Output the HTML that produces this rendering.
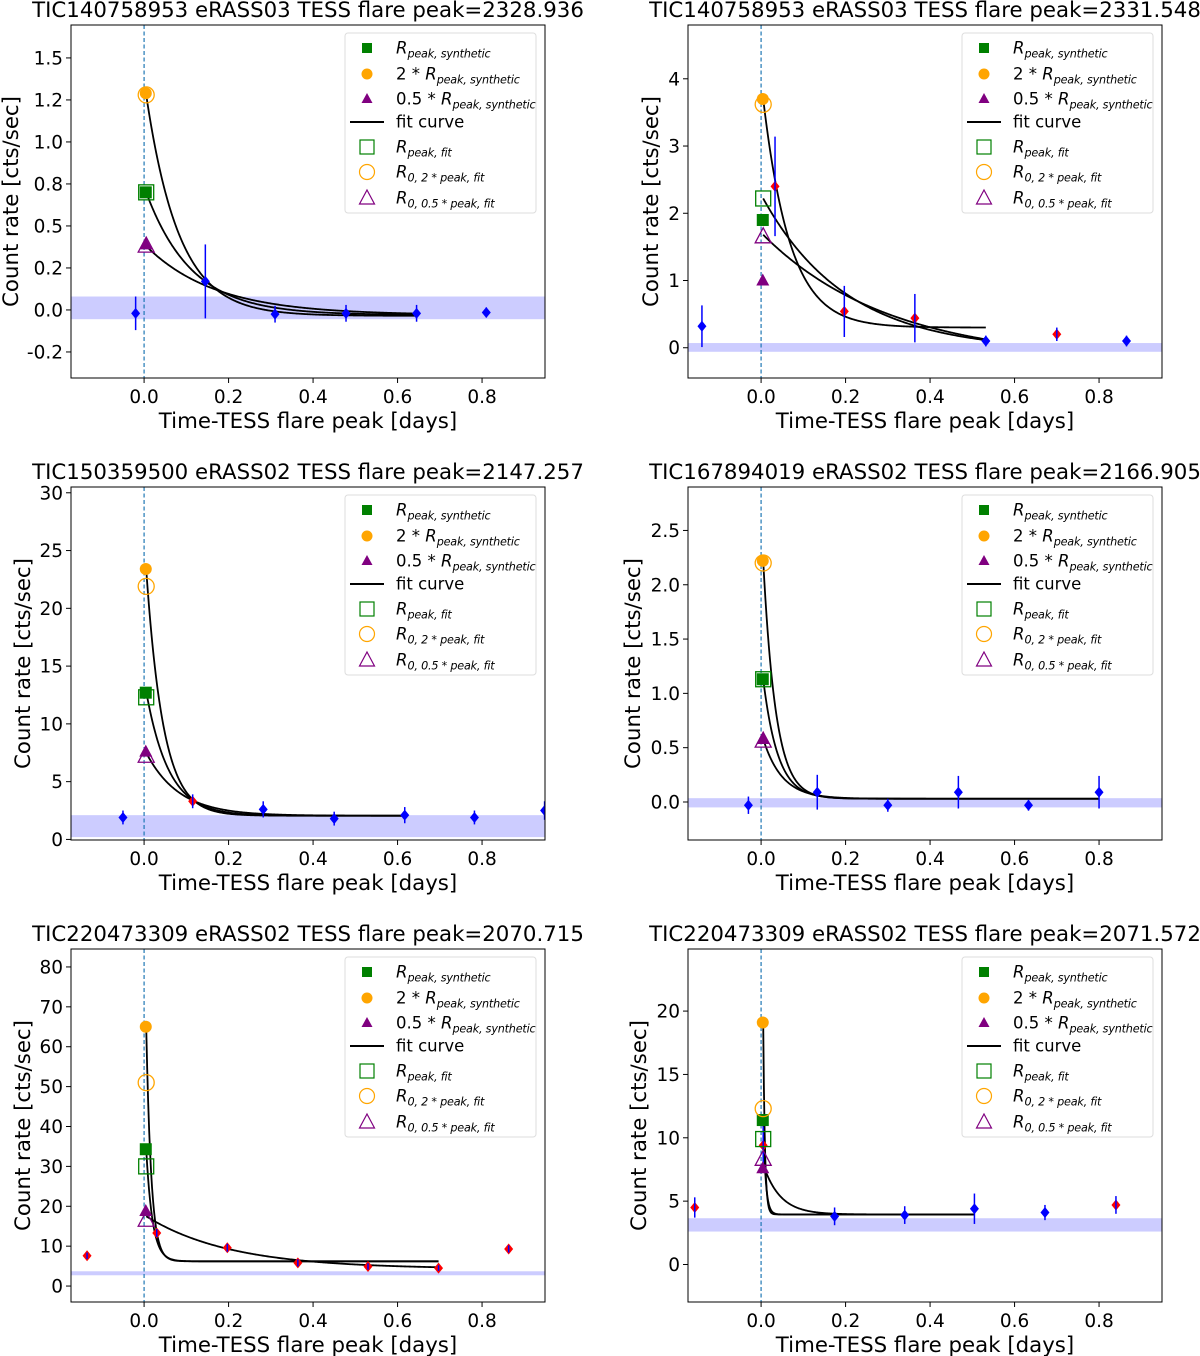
<!DOCTYPE html>
<html><head><meta charset="utf-8"><style>
html,body{margin:0;padding:0;background:#fff;}
svg{display:block;font-family:"DejaVu Sans","Liberation Sans",sans-serif;}
</style></head><body>
<svg id="fig" width="1200" height="1356" viewBox="0 0 1200 1356" xmlns="http://www.w3.org/2000/svg"></svg>
<script>
// ---- data arrays (top level) ----
const xTicks = [0, 0.2, 0.4, 0.6, 0.8];
const xTickLabels = ['0.0', '0.2', '0.4', '0.6', '0.8'];
const titles = [
 'TIC140758953 eRASS03 TESS flare peak=2328.936',
 'TIC140758953 eRASS03 TESS flare peak=2331.548',
 'TIC150359500 eRASS02 TESS flare peak=2147.257',
 'TIC167894019 eRASS02 TESS flare peak=2166.905',
 'TIC220473309 eRASS02 TESS flare peak=2070.715',
 'TIC220473309 eRASS02 TESS flare peak=2071.572'];

const p1_t = [-0.02, 0.145, 0.31, 0.478, 0.645, 0.81];
const p1_y = [-0.02, 0.17, -0.025, -0.02, -0.02, -0.015];
const p1_err = [0.1, 0.22, 0.05, 0.05, 0.05, 0.03];
const p1_red = [0, 0, 0, 0, 0, 0];
const p1_synth = [0.70, 1.29, 0.39];
const p1_fit = [0.70, 1.28, 0.38];
const p1_R0 = [1.28, 0.70, 0.38];
const p1_base = [-0.035, -0.03, -0.03];
const p1_tau = [0.078, 0.108, 0.165];
const p1_band = [-0.055, 0.08];
const p1_yTicks = [-0.25, 0, 0.25, 0.5, 0.75, 1, 1.25, 1.5];
const p1_yLabels = ['-0.2', '0.0', '0.2', '0.5', '0.8', '1.0', '1.2', '1.5'];

const p2_t = [-0.14, 0.033, 0.197, 0.364, 0.532, 0.70, 0.865];
const p2_y = [0.32, 2.4, 0.54, 0.44, 0.1, 0.2, 0.1];
const p2_err = [0.31, 0.74, 0.38, 0.36, 0.08, 0.1, 0.08];
const p2_red = [0, 1, 1, 1, 0, 1, 0];
const p2_synth = [1.9, 3.7, 1.0];
const p2_fit = [2.22, 3.62, 1.65];
const p2_R0 = [3.7, 2.22, 1.68];
const p2_base = [0.3, -0.05, -0.2];
const p2_tau = [0.064, 0.2, 0.3];
const p2_band = [-0.06, 0.07];
const p2_yTicks = [0, 1, 2, 3, 4];
const p2_yLabels = ['0', '1', '2', '3', '4'];

const p3_t = [-0.05, 0.115, 0.282, 0.45, 0.617, 0.782, 0.948];
const p3_y = [1.9, 3.3, 2.6, 1.8, 2.1, 1.9, 2.5];
const p3_err = [0.6, 0.6, 0.7, 0.6, 0.7, 0.6, 0.8];
const p3_red = [0, 1, 0, 0, 0, 0, 0];
const p3_synth = [12.7, 23.4, 7.6];
const p3_fit = [12.3, 21.9, 7.2];
const p3_R0 = [23.4, 12.8, 7.5];
const p3_base = [2.05, 2.05, 2.05];
const p3_tau = [0.0405, 0.0535, 0.078];
const p3_band = [0.2, 2.1];
const p3_yTicks = [0, 5, 10, 15, 20, 25, 30];
const p3_yLabels = ['0', '5', '10', '15', '20', '25', '30'];

const p4_t = [-0.03, 0.133, 0.30, 0.467, 0.633, 0.80];
const p4_y = [-0.03, 0.09, -0.03, 0.09, -0.03, 0.09];
const p4_err = [0.08, 0.16, 0.06, 0.15, 0.05, 0.15];
const p4_red = [0, 0, 0, 0, 0, 0];
const p4_synth = [1.13, 2.22, 0.58];
const p4_fit = [1.13, 2.2, 0.56];
const p4_R0 = [2.22, 1.13, 0.58];
const p4_base = [0.03, 0.03, 0.03];
const p4_tau = [0.03, 0.035, 0.045];
const p4_band = [-0.05, 0.035];
const p4_yTicks = [0, 0.5, 1, 1.5, 2, 2.5];
const p4_yLabels = ['0.0', '0.5', '1.0', '1.5', '2.0', '2.5'];

const p5_t = [-0.135, 0.03, 0.197, 0.364, 0.53, 0.697, 0.863];
const p5_y = [7.6, 13.3, 9.6, 5.8, 4.9, 4.5, 9.3];
const p5_err = [0.8, 1, 1, 0.9, 0.8, 0.7, 0.9];
const p5_red = [1, 1, 1, 1, 1, 1, 1];
const p5_synth = [34.3, 65, 18.8];
const p5_fit = [30, 51, 16.5];
const p5_R0 = [65, 34.3, 17.5];
const p5_base = [6.2, 6.2, 4.3];
const p5_tau = [0.012, 0.015, 0.2];
const p5_band = [2.7, 3.7];
const p5_yTicks = [0, 10, 20, 30, 40, 50, 60, 70, 80];
const p5_yLabels = ['0', '10', '20', '30', '40', '50', '60', '70', '80'];

const p6_t = [-0.157, 0.005, 0.174, 0.34, 0.505, 0.672, 0.84];
const p6_y = [4.5, 9.4, 3.8, 3.9, 4.4, 4.1, 4.7];
const p6_err = [0.8, 1.5, 0.7, 0.7, 1.2, 0.6, 0.7];
const p6_red = [1, 1, 0, 0, 0, 0, 1];
const p6_synth = [11.4, 19.1, 7.6];
const p6_fit = [9.9, 12.3, 8.3];
const p6_R0 = [19.1, 11.4, 7.9];
const p6_base = [3.95, 3.95, 3.95];
const p6_tau = [0.004, 0.006, 0.04];
const p6_band = [2.6, 3.65];
const p6_yTicks = [0, 5, 10, 15, 20];
const p6_yLabels = ['0', '5', '10', '15', '20'];

// ---- layout ----
const NS = 'http://www.w3.org/2000/svg';
const svg = document.getElementById('fig');
function el(tag, attrs, parent) {
  const e = document.createElementNS(NS, tag);
  for (const k in attrs) e.setAttribute(k, attrs[k]);
  (parent || svg).appendChild(e);
  return e;
}
const W = 474, H = 353, XMIN = -0.173, XMAX = 0.949;
const panels = [
 {x:71, y:25, ymin:-0.405, ymax:1.696, t:p1_t, v:p1_y, e:p1_err, r:p1_red, s:p1_synth, f:p1_fit, R0:p1_R0, b:p1_base, tau:p1_tau, band:p1_band, yt:p1_yTicks, yl:p1_yLabels, tEnd:0.645, ylab:61},
 {x:688, y:25, ymin:-0.45, ymax:4.8, t:p2_t, v:p2_y, e:p2_err, r:p2_red, s:p2_synth, f:p2_fit, R0:p2_R0, b:p2_base, tau:p2_tau, band:p2_band, yt:p2_yTicks, yl:p2_yLabels, tEnd:0.532, ylab:38},
 {x:71, y:487, ymin:-0.05, ymax:30.5, t:p3_t, v:p3_y, e:p3_err, r:p3_red, s:p3_synth, f:p3_fit, R0:p3_R0, b:p3_base, tau:p3_tau, band:p3_band, yt:p3_yTicks, yl:p3_yLabels, tEnd:0.617, ylab:49},
 {x:688, y:487, ymin:-0.35, ymax:2.9, t:p4_t, v:p4_y, e:p4_err, r:p4_red, s:p4_synth, f:p4_fit, R0:p4_R0, b:p4_base, tau:p4_tau, band:p4_band, yt:p4_yTicks, yl:p4_yLabels, tEnd:0.80, ylab:56},
 {x:71, y:949, ymin:-4, ymax:84.5, t:p5_t, v:p5_y, e:p5_err, r:p5_red, s:p5_synth, f:p5_fit, R0:p5_R0, b:p5_base, tau:p5_tau, band:p5_band, yt:p5_yTicks, yl:p5_yLabels, tEnd:0.697, ylab:49},
 {x:688, y:949, ymin:-2.96, ymax:24.9, t:p6_t, v:p6_y, e:p6_err, r:p6_red, s:p6_synth, f:p6_fit, R0:p6_R0, b:p6_base, tau:p6_tau, band:p6_band, yt:p6_yTicks, yl:p6_yLabels, tEnd:0.505, ylab:50}
];

function drawPanel(p, idx) {
  const g = el('g', {});
  
  
  const X = t => p.x + (t - XMIN) / (XMAX - XMIN) * W;
  const Y = v => p.y + (p.ymax - v) / (p.ymax - p.ymin) * H;
  const clipId = 'clip' + idx;
  const cp = el('clipPath', {id: clipId}, g);
  el('rect', {x: p.x, y: p.y, width: W, height: H}, cp);
  const inner = el('g', {'clip-path': 'url(#' + clipId + ')'}, g);

  const ti = el('text', {x: p.x + W / 2, y: p.y - 8, 'text-anchor': 'middle', 'font-size': 21.3, fill: '#000'}, g);
  ti.textContent = titles[idx];
  
  

  const band = el('rect', {x: p.x, y: Y(p.band[1]), width: W, height: Y(p.band[0]) - Y(p.band[1]), fill: '#ccccff'}, inner);
  
  

  const vl = el('line', {x1: X(0), x2: X(0), y1: p.y, y2: p.y + H, stroke: '#1f77b4', 'stroke-width': 1.2, 'stroke-dasharray': '4,2.5'}, inner);
  
  

  for (let c = 0; c < p.R0.length; c++) {
    let d = '';
    const t0 = 0.005;
    for (let i = 0; i <= 300; i++) {
      const t = t0 + (p.tEnd - t0) * i / 300;
      const v = p.b[c] + (p.R0[c] - p.b[c]) * Math.exp(-(t - t0) / p.tau[c]);
      d += (i ? 'L' : 'M') + X(t).toFixed(2) + ',' + Y(v).toFixed(2);
    }
    const path = el('path', {d: d, fill: 'none', stroke: '#000', 'stroke-width': 1.8}, inner);
    
    
  }

  for (let i = 0; i < p.t.length; i++) {
    const cx = X(p.t[i]), cy = Y(p.v[i]);
    const col = p.r[i] ? '#ff0000' : '#0000ff';
    const dm = el('polygon', {points: `${cx},${cy - 5.5} ${cx + 4.5},${cy} ${cx},${cy + 5.5} ${cx - 4.5},${cy}`, fill: col}, inner);
    
    
    const eb = el('line', {x1: cx, x2: cx, y1: Y(p.v[i] + p.e[i]), y2: Y(p.v[i] - p.e[i]), stroke: '#0000ff', 'stroke-width': 1.5}, inner);
    
    
  }

  const mx = X(0.004);
  let m = el('rect', {x: mx - 6, y: Y(p.s[0]) - 6, width: 12, height: 12, fill: 'green'}, inner);
  
  
  m = el('circle', {cx: mx, cy: Y(p.s[1]), r: 6, fill: 'orange'}, inner);
  
  
  let ty = Y(p.s[2]);
  m = el('polygon', {points: `${mx},${ty - 7} ${mx + 6.5},${ty + 5} ${mx - 6.5},${ty + 5}`, fill: 'purple'}, inner);
  
  
  const fx = X(0.005);
  m = el('rect', {x: fx - 7.5, y: Y(p.f[0]) - 7.5, width: 15, height: 15, fill: 'none', stroke: 'green', 'stroke-width': 1.3}, inner);
  
  
  m = el('circle', {cx: fx, cy: Y(p.f[1]), r: 8, fill: 'none', stroke: 'orange', 'stroke-width': 1.3}, inner);
  
  
  ty = Y(p.f[2]);
  m = el('polygon', {points: `${fx},${ty - 9} ${fx + 8},${ty + 6} ${fx - 8},${ty + 6}`, fill: 'none', stroke: 'purple', 'stroke-width': 1.3}, inner);
  
  

  const fr = el('rect', {x: p.x, y: p.y, width: W, height: H, fill: 'none', stroke: '#000', 'stroke-width': 1}, g);
  
  

  for (let i = 0; i < xTicks.length; i++) {
    const tx = X(xTicks[i]);
    el('line', {x1: tx, x2: tx, y1: p.y + H, y2: p.y + H + 5, stroke: '#000', 'stroke-width': 1}, g);
    const lt = el('text', {x: tx, y: p.y + H + 25, 'text-anchor': 'middle', 'font-size': 18.5}, g);
    lt.textContent = xTickLabels[i];
    
    
  }
  for (let i = 0; i < p.yt.length; i++) {
    const yy = Y(p.yt[i]);
    el('line', {x1: p.x - 5, x2: p.x, y1: yy, y2: yy, stroke: '#000', 'stroke-width': 1}, g);
    const lt = el('text', {x: p.x - 8, y: yy + 6.5, 'text-anchor': 'end', 'font-size': 18.5}, g);
    lt.textContent = p.yl[i];
    
    
  }
  const xt = el('text', {x: p.x + W / 2, y: p.y + H + 50, 'text-anchor': 'middle', 'font-size': 21.3}, g);
  xt.textContent = 'Time-TESS flare peak [days]';
  
  
  const yx = p.x - p.ylab + 8, yc = p.y + H / 2;
  const yt = el('text', {x: yx, y: yc, 'text-anchor': 'middle', 'font-size': 21.3, transform: `rotate(-90 ${yx} ${yc})`}, g);
  yt.textContent = 'Count rate [cts/sec]';
  
  

  const lg = el('g', {}, g);
  
  
  el('rect', {x: p.x + 274, y: p.y + 8, width: 191, height: 180, rx: 3, fill: '#fff', 'fill-opacity': 0.8, stroke: '#ddd', 'stroke-width': 1}, lg);
  const lx = p.x + 296, tx0 = p.x + 325;
  const rows = [23, 49, 74, 97, 122, 147, 173].map(o => p.y + o);
  el('rect', {x: lx - 5, y: rows[0] - 5, width: 10, height: 10, fill: 'green'}, lg);
  el('circle', {cx: lx, cy: rows[1], r: 5.5, fill: 'orange'}, lg);
  el('polygon', {points: `${lx},${rows[2] - 6} ${lx + 5.5},${rows[2] + 4} ${lx - 5.5},${rows[2] + 4}`, fill: 'purple'}, lg);
  el('line', {x1: lx - 17, x2: lx + 17, y1: rows[3], y2: rows[3], stroke: '#000', 'stroke-width': 2}, lg);
  el('rect', {x: lx - 7, y: rows[4] - 7, width: 14, height: 14, fill: 'none', stroke: 'green', 'stroke-width': 1.2}, lg);
  el('circle', {cx: lx, cy: rows[5], r: 7.5, fill: 'none', stroke: 'orange', 'stroke-width': 1.2}, lg);
  el('polygon', {points: `${lx},${rows[6] - 8} ${lx + 7.5},${rows[6] + 6} ${lx - 7.5},${rows[6] + 6}`, fill: 'none', stroke: 'purple', 'stroke-width': 1.2}, lg);
  const labs = [['', 'peak, synthetic'], ['2 * ', 'peak, synthetic'], ['0.5 * ', 'peak, synthetic'], null, ['', 'peak, fit'], ['', '0, 2 * peak, fit'], ['', '0, 0.5 * peak, fit']];
  labs.forEach((L, i) => {
    const t = el('text', {x: tx0, y: rows[i] + 5.5, 'font-size': 16.5}, lg);
    
    
    if (!L) { t.textContent = 'fit curve'; return; }
    if (L[0]) { const a = el('tspan', {}, t); a.textContent = L[0]; }
    const r = el('tspan', {'font-style': 'italic'}, t); r.textContent = 'R';
    const s = el('tspan', {'font-style': 'italic', 'font-size': 11.2, dy: 4, 'letter-spacing': '-0.2'}, t); s.textContent = L[1];
  });
}
panels.forEach(drawPanel);
</script>
</body></html>
